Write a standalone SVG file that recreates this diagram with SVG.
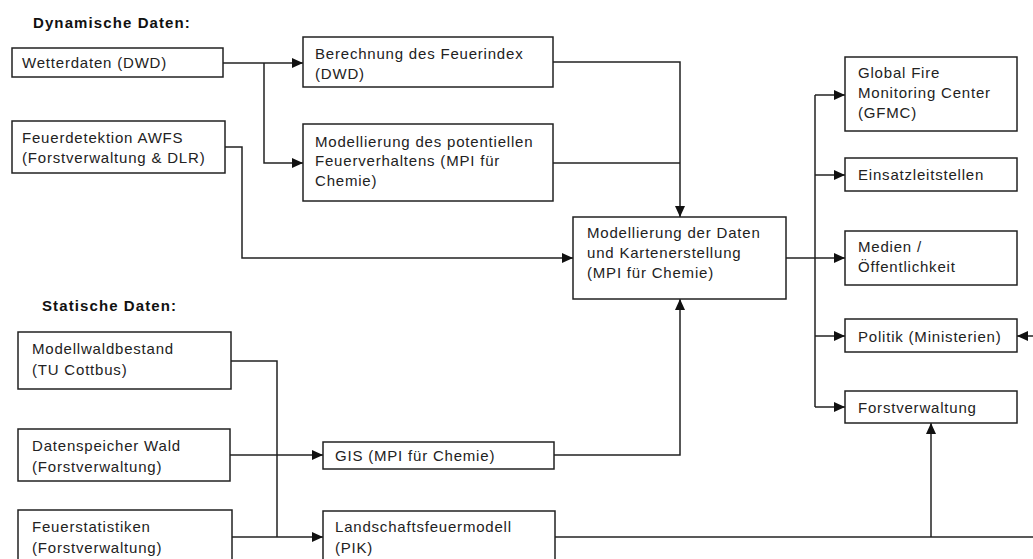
<svg xmlns="http://www.w3.org/2000/svg" width="1033" height="559" viewBox="0 0 1033 559">
<style>
.box{fill:#fff;stroke:#222;stroke-width:1.5}
.t{font-family:"Liberation Sans",Arial,sans-serif;font-size:15px;fill:#222;letter-spacing:0.8px}
.h{font-family:"Liberation Sans",Arial,sans-serif;font-size:15px;font-weight:bold;fill:#111;letter-spacing:1.1px}
.c{fill:none;stroke:#222;stroke-width:1.5}
</style>
<defs>
<marker id="ah" markerUnits="userSpaceOnUse" markerWidth="12" markerHeight="12" refX="11" refY="5" orient="auto">
<path d="M0,0 L11,5 L0,10 z" fill="#111"/>
</marker>
</defs>
<rect width="1033" height="559" fill="#fff"/>
<text class="h" x="33" y="28">Dynamische Daten:</text>
<text class="h" x="42" y="311">Statische Daten:</text>
<g id="connectors">
<path class="c" d="M223,63 H303" marker-end="url(#ah)"/>
<path class="c" d="M264,63 V163 H303" marker-end="url(#ah)"/>
<path class="c" d="M225,147 H242 V258 H573" marker-end="url(#ah)"/>
<path class="c" d="M553,62 H680 V217" marker-end="url(#ah)"/>
<path class="c" d="M553,163 H680"/>
<path class="c" d="M554,455 H680 V299" marker-end="url(#ah)"/>
<path class="c" d="M786,258 H845" marker-end="url(#ah)"/>
<path class="c" d="M815,95 V407"/>
<path class="c" d="M815,95 H845" marker-end="url(#ah)"/>
<path class="c" d="M815,175 H845" marker-end="url(#ah)"/>
<path class="c" d="M815,336 H845" marker-end="url(#ah)"/>
<path class="c" d="M815,407 H845" marker-end="url(#ah)"/>
<path class="c" d="M231,361 H277 V537"/>
<path class="c" d="M230,455 H323" marker-end="url(#ah)"/>
<path class="c" d="M232,537 H323" marker-end="url(#ah)"/>
<path class="c" d="M555,537 H1033"/>
<path class="c" d="M931,537 V423" marker-end="url(#ah)"/>
<path class="c" d="M1033,336 H1017" marker-end="url(#ah)"/>
</g>
<g id="wetterdaten"><rect class="box" x="12" y="48" width="211" height="29"/><text class="t" x="22" y="68">Wetterdaten (DWD)</text></g>
<g id="feuerdetektion"><rect class="box" x="12" y="121" width="213" height="52"/><text class="t" x="22" y="143">Feuerdetektion AWFS</text><text class="t" x="22" y="163">(Forstverwaltung &amp; DLR)</text></g>
<g id="berechnung"><rect class="box" x="303" y="37" width="250" height="50"/><text class="t" x="315" y="59">Berechnung des Feuerindex</text><text class="t" x="315" y="79">(DWD)</text></g>
<g id="modellierung-feuerverhalten"><rect class="box" x="303" y="124" width="250" height="77"/><text class="t" x="315" y="147">Modellierung des potentiellen</text><text class="t" x="315" y="166">Feuerverhaltens (MPI für</text><text class="t" x="315" y="186">Chemie)</text></g>
<g id="modellierung-daten"><rect class="box" x="573" y="217" width="213" height="82"/><text class="t" x="587" y="238">Modellierung der Daten</text><text class="t" x="587" y="258">und Kartenerstellung</text><text class="t" x="587" y="278">(MPI für Chemie)</text></g>
<g id="gfmc"><rect class="box" x="845" y="57" width="172" height="74"/><text class="t" x="858" y="78">Global Fire</text><text class="t" x="858" y="98">Monitoring Center</text><text class="t" x="858" y="118">(GFMC)</text></g>
<g id="einsatzleitstellen"><rect class="box" x="845" y="158" width="172" height="33"/><text class="t" x="858" y="180">Einsatzleitstellen</text></g>
<g id="medien"><rect class="box" x="845" y="231" width="172" height="54"/><text class="t" x="858" y="252">Medien /</text><text class="t" x="858" y="272">Öffentlichkeit</text></g>
<g id="politik"><rect class="box" x="845" y="319" width="172" height="33"/><text class="t" x="858" y="342">Politik (Ministerien)</text></g>
<g id="forstverwaltung"><rect class="box" x="845" y="391" width="172" height="32"/><text class="t" x="858" y="413">Forstverwaltung</text></g>
<g id="modellwaldbestand"><rect class="box" x="18" y="332" width="213" height="57"/><text class="t" x="32" y="354">Modellwaldbestand</text><text class="t" x="32" y="375">(TU Cottbus)</text></g>
<g id="datenspeicher"><rect class="box" x="18" y="429" width="212" height="52"/><text class="t" x="32" y="451">Datenspeicher Wald</text><text class="t" x="32" y="472">(Forstverwaltung)</text></g>
<g id="feuerstatistiken"><rect class="box" x="18" y="510" width="214" height="70"/><text class="t" x="32" y="532">Feuerstatistiken</text><text class="t" x="32" y="553">(Forstverwaltung)</text></g>
<g id="gis"><rect class="box" x="323" y="442" width="231" height="27"/><text class="t" x="335" y="461">GIS (MPI für Chemie)</text></g>
<g id="landschaftsfeuermodell"><rect class="box" x="323" y="511" width="232" height="70"/><text class="t" x="335" y="532">Landschaftsfeuermodell</text><text class="t" x="335" y="553">(PIK)</text></g>
</svg>
